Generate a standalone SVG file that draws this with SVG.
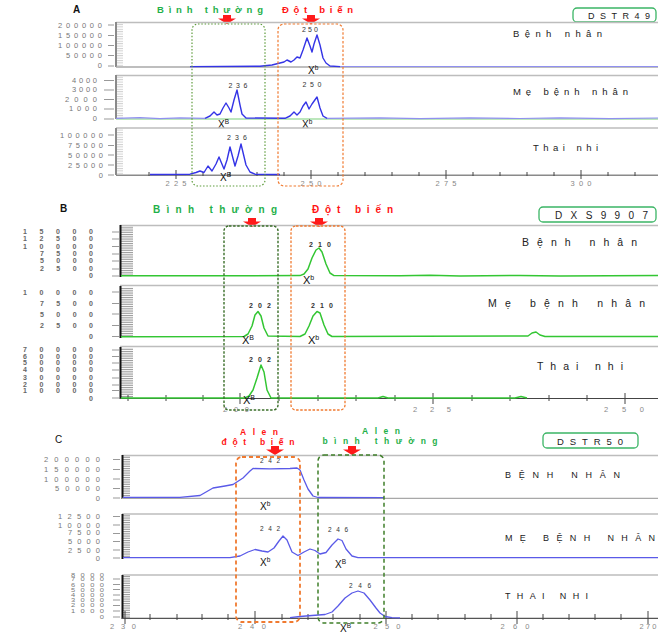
<svg xmlns="http://www.w3.org/2000/svg" width="658" height="634" viewBox="0 0 658 634">
<defs>
<style>
text{font-family:"Liberation Sans",Arial,sans-serif}
.yl{fill:#777;font-size:7.5px;text-anchor:end}
.yb{fill:#666;font-size:7px;font-weight:bold;text-anchor:end}
.dsh{stroke:#999;stroke-width:1;fill:none}
.fr{fill:none;stroke:#bdbdbd;stroke-width:1.6}
.base{fill:none;stroke:#a8a8a8;stroke-width:1.3}
.axA{stroke:#8a8a8a;stroke-width:2}
.axB{stroke:#111;stroke-width:2}
.tb{fill:none;stroke:#3434e6;stroke-width:1.4;stroke-linejoin:round}
.tbl{fill:none;stroke:#9090f0;stroke-width:1.2}
.tbc{fill:none;stroke:#5a5ae8;stroke-width:1.3;stroke-linejoin:round}
.tg{fill:none;stroke:#33c633;stroke-width:1.5;stroke-linejoin:round}
.tgl{fill:none;stroke:#7ad07a;stroke-width:1.1}
.grn{fill:#1fb04a;font-weight:bold}
.red{fill:#ff1414;font-weight:bold}
.nm{fill:#222}
.pk{fill:#333;text-anchor:middle}
.xl{fill:#111}
.tick{stroke:#444;stroke-width:1;fill:none}
.tkl{fill:#888;font-size:7.5px;text-anchor:middle}
.gA{fill:none;stroke:#5e9c3c;stroke-width:1.2;stroke-dasharray:1.5 1.8}
.oA{fill:none;stroke:#f07a30;stroke-width:1.2;stroke-dasharray:2.5 1.8}
.gB{fill:none;stroke:#3b6f2a;stroke-width:1.4;stroke-dasharray:2.5 1.6}
.oB{fill:none;stroke:#f07a30;stroke-width:1.3;stroke-dasharray:2.5 1.6}
.gC{fill:none;stroke:#3f7f2a;stroke-width:1.5;stroke-dasharray:4 3}
.oC{fill:none;stroke:#f07a30;stroke-width:1.8;stroke-dasharray:4 3}
.tag{fill:#fff;stroke:#3bb565;stroke-width:1.3}
.arr{fill:#ff1a1a}
</style>
<pattern id="hA" width="8" height="2.4" patternUnits="userSpaceOnUse"><rect width="8" height="1" fill="#cfcfcf"/></pattern>
<pattern id="hB" width="14" height="1.8" patternUnits="userSpaceOnUse"><rect width="14" height="0.9" fill="#9a9a9a"/></pattern>
<path id="arr" d="M-4,0H4V3.5H9L0,9L-9,3.5H-4Z"/>
</defs>
<rect width="658" height="634" fill="#fff"/>

<!-- ================= PANEL A ================= -->
<g id="panel-A">
<text x="73" y="13" font-size="10" font-weight="bold" fill="#111">A</text>
<text class="grn" x="157" y="13" font-size="9.5" textLength="106" lengthAdjust="spacing">Bình thường</text>
<text class="red" x="282" y="13" font-size="9.5" textLength="71" lengthAdjust="spacing">Đột biến</text>
<use href="#arr" class="arr" x="227" y="15"/>
<use href="#arr" class="arr" x="311" y="15"/>
<g id="tag-A"><rect class="tag" x="573" y="8" width="83" height="14" rx="4"/><text x="588" y="19" font-size="9" fill="#222" textLength="62" lengthAdjust="spacing">DSTR49</text></g>

<!-- plot A1 -->
<g id="A1">
<path class="fr" d="M116,22.5H658"/>
<rect x="117" y="23" width="6" height="44" fill="url(#hA)"/>
<path class="axA" d="M116,22V67"/>
<path class="dsh" d="M108,25H114M108,35.5H114M108,45.5H114M108,55.5H114M108,66H114"/>
<text class="yl" x="102" y="27.5" textLength="44">200000</text>
<text class="yl" x="102" y="37.5" textLength="44">150000</text>
<text class="yl" x="102" y="48" textLength="44">100000</text>
<text class="yl" x="102" y="57.5" textLength="36">50000</text>
<text class="yl" x="102" y="68">0</text>
<path class="base" d="M116,67H658"/>
<path class="tbl" d="M340,66.5H658"/>
<path class="tb" d="M190,66.6L260,66.2L272,65L280,63L284,62L287,60L291,62L294,60L297,57L300,58L303,50L307,38L310,46L312,52L314,44L317,35L320,45L323,58L326,63L330,66L340,66.6"/>
<text class="pk" x="310" y="32" font-size="7" textLength="16" lengthAdjust="spacing">250</text>
<text class="xl" x="308" y="74" font-size="10">X<tspan font-size="6.5" dy="-4">b</tspan></text>
<text class="nm" x="513" y="37" font-size="9.5" textLength="89" lengthAdjust="spacing">Bệnh nhân</text>
</g>

<!-- plot A2 -->
<g id="A2">
<path class="fr" d="M116,75.5H658"/>
<rect x="117" y="76" width="6" height="43" fill="url(#hA)"/>
<path class="axA" d="M116,75V119"/>
<path class="dsh" d="M104,80.5H114M104,90H114M104,99.5H114M104,109H114M104,119H114"/>
<text class="yl" x="97" y="82.5" textLength="25">4000</text>
<text class="yl" x="97" y="92" textLength="25">3000</text>
<text class="yl" x="97" y="101.5" textLength="32">2000</text>
<text class="yl" x="97" y="111" textLength="28">1000</text>
<text class="yl" x="97" y="121">0</text>
<path class="tgl" d="M116,119H658"/>
<path class="tbl" d="M116,118.3L140,117.6L160,118.6L180,117.8L205,118.3M327,118.3L380,117.8L420,118.6L470,117.9L520,118.5L560,117.8L610,118.6L658,118"/>
<path class="tb" d="M205,118.3L210,116L214,112L217,115L220,114L223,108L226,103L229,108L231,112L234,100L237,90L240,105L242,114L246,118L285,118.3L290,116L294,112L297,115L300,112L303,106L306,102L309,109L312,104L317,97L320,108L323,116L327,118.3"/>
<text class="pk" x="238" y="88" font-size="7" textLength="19" lengthAdjust="spacing">236</text>
<text class="pk" x="312" y="87" font-size="7" textLength="19" lengthAdjust="spacing">250</text>
<text class="xl" x="218" y="127.5" font-size="10">X<tspan font-size="6.5" dy="-4">B</tspan></text>
<text class="xl" x="302" y="127.5" font-size="10">X<tspan font-size="6.5" dy="-4">b</tspan></text>
<text class="nm" x="513" y="95" font-size="9.5" textLength="115" lengthAdjust="spacing">Mẹ bệnh nhân</text>
<path class="fr" d="M116,128H658" stroke-width="2"/>
</g>

<!-- plot A3 -->
<g id="A3">
<rect x="117" y="129" width="6" height="46" fill="url(#hA)"/>
<path class="axA" d="M116,128V175"/>
<path class="dsh" d="M108,135H114M108,145.5H114M108,155H114M108,165H114M108,175H114"/>
<text class="yl" x="103" y="137.5" textLength="43">100000</text>
<text class="yl" x="103" y="148" textLength="35">75000</text>
<text class="yl" x="103" y="157.5" textLength="35">50000</text>
<text class="yl" x="103" y="167.5" textLength="35">25000</text>
<text class="yl" x="103" y="177.5">0</text>
<path d="M116,175.3H658" stroke="#8a8a8a" stroke-width="1.4"/>
<path class="tick" d="M149,172V176M203,172V176M230,172V176M257,172V176M284,172V176M338,172V176M365,172V176M392,172V176M419,172V176M473,172V176M500,172V176M527,172V176M554,172V176M608,172V176M635,172V176"/>
<path class="tick" d="M176,170V179M311,170V179M446,170V179M581,170V179"/>
<path class="tb" d="M150,174.5L190,174.2L196,172.5L200,171L204,172.5L208,166L212,171L216,164L219,157L224,169L227,160L230,147L235,166L238,156L241,144L246,165L250,172L255,174.2L280,174.5"/>
<text class="pk" x="237" y="140" font-size="7" textLength="20" lengthAdjust="spacing">236</text>
<text class="xl" x="220" y="181" font-size="10">X<tspan font-size="6.5" dy="-4">B</tspan></text>
<text class="tkl" x="176" y="186" textLength="21" lengthAdjust="spacing">225</text>
<text class="tkl" x="311" y="186" textLength="21" lengthAdjust="spacing">250</text>
<text class="tkl" x="446" y="186" textLength="21" lengthAdjust="spacing">275</text>
<text class="tkl" x="581" y="186" textLength="21" lengthAdjust="spacing">300</text>
<text class="nm" x="533" y="151" font-size="9.5" textLength="65" lengthAdjust="spacing">Thai nhi</text>
</g>
<rect id="A-normal-box" class="gA" x="192" y="24" width="73" height="162" rx="6"/>
<rect id="A-mutant-box" class="oA" x="278" y="24" width="65" height="162" rx="6"/>
</g>

<!-- ================= PANEL B ================= -->
<g id="panel-B">
<text x="60" y="212" font-size="10" font-weight="bold" fill="#111">B</text>
<text class="grn" x="153" y="213" font-size="10" textLength="124" lengthAdjust="spacing">Bình thường</text>
<text class="red" x="312" y="213" font-size="10" textLength="81" lengthAdjust="spacing">Đột biến</text>
<use href="#arr" class="arr" x="252" y="218"/>
<use href="#arr" class="arr" x="319" y="218"/>
<g id="tag-B"><rect class="tag" x="539" y="207" width="117" height="15" rx="4"/><text x="555" y="219" font-size="10" fill="#222" textLength="93" lengthAdjust="spacing">DXS9907</text></g>

<g id="B1">
<path class="fr" d="M120,225.5H658"/>
<rect x="121" y="226" width="12" height="50" fill="url(#hB)"/>
<path class="axB" d="M120.5,225V277"/>
<path class="dsh" d="M112,232H119M112,239H119M112,246.5H119M112,254H119M112,261H119M112,269H119M112,276H119"/>
<text class="yb" x="93" y="234" textLength="70">15000</text>
<text class="yb" x="93" y="241" textLength="70">12500</text>
<text class="yb" x="93" y="248.5" textLength="70">10000</text>
<text class="yb" x="93" y="256" textLength="53">7500</text>
<text class="yb" x="93" y="263" textLength="53">5000</text>
<text class="yb" x="93" y="271" textLength="53">2500</text>
<text class="yb" x="93" y="278">0</text>
<path class="tg" d="M121,275.8L300,275.6L304,274L308,269L312,258L316,250L319,248L322,252L326,264L330,273L334,275.6L400,275.8L430,275.3L460,275.9L520,275.4L560,275.9L658,275.6"/>
<text class="pk" x="320" y="247" font-size="7" font-weight="bold" textLength="22" lengthAdjust="spacing">210</text>
<text class="xl" x="303" y="284" font-size="11">X<tspan font-size="7" dy="-4.5">b</tspan></text>
<text class="nm" x="522" y="246" font-size="10.5" textLength="115" lengthAdjust="spacing">Bệnh nhân</text>
<path class="fr" d="M120,285.5H658" stroke-width="2"/>
</g>

<g id="B2">
<rect x="121" y="287" width="12" height="50" fill="url(#hB)"/>
<path class="axB" d="M120.5,286V338"/>
<path class="dsh" d="M112,292H119M112,303.5H119M112,314H119M112,325.5H119M112,336.5H119"/>
<text class="yb" x="93" y="294.5" textLength="70">10000</text>
<text class="yb" x="93" y="306" textLength="53">7500</text>
<text class="yb" x="93" y="316.5" textLength="53">5000</text>
<text class="yb" x="93" y="327.5" textLength="53">2500</text>
<text class="yb" x="93" y="338.5">0</text>
<path class="tg" d="M121,336.8L244,336.5L248,334L252,326L255,315L258,311.5L261,316L264,328L268,336L300,336.5L305,334L309,326L313,316L317,311.5L320,313L324,325L328,334L332,336.5L528,336L532,333L536,332L540,335L545,336.5L658,336.6"/>
<text class="pk" x="260" y="308" font-size="7" font-weight="bold" textLength="22" lengthAdjust="spacing">202</text>
<text class="pk" x="322" y="308" font-size="7" font-weight="bold" textLength="22" lengthAdjust="spacing">210</text>
<text class="xl" x="242" y="344" font-size="11">X<tspan font-size="7" dy="-4.5">B</tspan></text>
<text class="xl" x="308" y="344" font-size="11">X<tspan font-size="7" dy="-4.5">b</tspan></text>
<text class="nm" x="488" y="307" font-size="10.5" textLength="157" lengthAdjust="spacing">Mẹ bệnh nhân</text>
<path class="fr" d="M120,346.5H658" stroke-width="2"/>
</g>

<g id="B3">
<rect x="121" y="348" width="12" height="50" fill="url(#hB)"/>
<path class="axB" d="M120.5,347V399"/>
<path class="dsh" d="M112,350H119M112,356.5H119M112,363H119M112,370H119M112,378H119M112,385H119M112,390.5H119M112,398H119"/>
<text class="yb" x="93" y="352" font-size="6" textLength="70">70000</text>
<text class="yb" x="93" y="358.5" font-size="6" textLength="70">60000</text>
<text class="yb" x="93" y="365" font-size="6" textLength="70">50000</text>
<text class="yb" x="93" y="372" font-size="6" textLength="70">40000</text>
<text class="yb" x="93" y="380" font-size="6" textLength="70">30000</text>
<text class="yb" x="93" y="387" font-size="6" textLength="70">20000</text>
<text class="yb" x="93" y="392.5" font-size="6" textLength="70">10000</text>
<text class="yb" x="93" y="401" font-size="6">0</text>
<path d="M120,398.5H658" stroke="#444" stroke-width="1.2"/>
<path class="tick" d="M128,395V401M166,395V401M203,395V401M279,395V401M318,395V401M356,395V401M395,395V401M472,395V401M510,395V401M549,395V401M587,395V401"/>
<path class="tick" d="M240,393V404M433,393V404M625,393V404" stroke-width="1.5"/>
<path class="tg" d="M121,398L245,398L249,396L253,390L257,378L261,365L264,372L267,390L271,398L378,398L383,396.5L388,398L515,398L521,396.5L527,398"/>
<text class="pk" x="260" y="362" font-size="7" font-weight="bold" textLength="22" lengthAdjust="spacing">202</text>
<text class="xl" x="243" y="404" font-size="11">X<tspan font-size="7" dy="-4.5">B</tspan></text>
<text class="tkl" x="236" y="412" textLength="26" lengthAdjust="spacing">200</text>
<text class="tkl" x="432" y="412" textLength="38" lengthAdjust="spacing">225</text>
<text class="tkl" x="624" y="412" textLength="40" lengthAdjust="spacing">250</text>
<text class="nm" x="537" y="370" font-size="10.5" textLength="86" lengthAdjust="spacing">Thai nhi</text>
</g>
<rect id="B-normal-box" class="gB" x="224" y="226" width="54" height="184" rx="5"/>
<rect id="B-mutant-box" class="oB" x="291" y="226" width="54" height="184" rx="5"/>
</g>

<!-- ================= PANEL C ================= -->
<g id="panel-C">
<text x="55" y="443" font-size="10" fill="#111">C</text>
<text class="red" x="259" y="434.5" font-size="8.5" text-anchor="middle" textLength="38" lengthAdjust="spacing">Alen</text>
<text class="red" x="258" y="445" font-size="8.5" text-anchor="middle" textLength="73" lengthAdjust="spacing">đột biến</text>
<text class="grn" x="381" y="433.5" font-size="8.5" text-anchor="middle" textLength="38" lengthAdjust="spacing">Alen</text>
<text class="grn" x="380" y="444" font-size="8.5" text-anchor="middle" textLength="115" lengthAdjust="spacing">bình thường</text>
<use href="#arr" class="arr" x="275" y="446"/>
<use href="#arr" class="arr" x="352" y="446"/>
<g id="tag-C"><rect class="tag" x="543" y="433" width="95" height="15" rx="4"/><text x="557" y="445" font-size="9.5" fill="#222" textLength="66" lengthAdjust="spacing">DSTR50</text></g>

<g id="C1">
<path class="fr" d="M122,455.5H658"/>
<rect x="123" y="456" width="7" height="42" fill="url(#hB)"/>
<path class="axB" d="M122.5,455V499"/>
<path class="dsh" d="M113,459.5H120M113,469.5H120M113,479H120M113,488.5H120M113,498H120"/>
<text class="yl" x="100" y="462" font-size="7" textLength="56">200000</text>
<text class="yl" x="100" y="472" font-size="7" textLength="56">150000</text>
<text class="yl" x="100" y="481.5" font-size="7" textLength="56">100000</text>
<text class="yl" x="100" y="491" font-size="7" textLength="45">50000</text>
<text class="yl" x="100" y="501" font-size="7">0</text>
<path class="base" d="M122,498.3H658"/>
<path class="tbc" d="M123,497.3L180,497.3L200,495.5L213,488L225,486L233,484.5L243,478L250,471L253,468.5L270,468.8L290,468.5L297,468L300,470L304,480L308,489L313,496L318,497.5L384,497.6"/>
<text class="pk" x="270" y="463" font-size="6.5" textLength="20" lengthAdjust="spacing">242</text>
<text class="xl" x="260" y="510" font-size="10">X<tspan font-size="6.5" dy="-4">b</tspan></text>
<text class="nm" x="505" y="478" font-size="9" textLength="115" lengthAdjust="spacing">BỆNH NHÂN</text>
<path class="fr" d="M122,514H658" stroke-width="2"/>
</g>

<g id="C2">
<rect x="123" y="515" width="7" height="43" fill="url(#hB)"/>
<path class="axB" d="M122.5,514V559"/>
<path class="dsh" d="M113,516.5H120M113,525H120M113,533.5H120M113,541.5H120M113,550H120M113,558H120"/>
<text class="yl" x="100" y="519" font-size="7" textLength="42">12500</text>
<text class="yl" x="100" y="527.5" font-size="7" textLength="42">10000</text>
<text class="yl" x="100" y="535" font-size="7" textLength="32">7500</text>
<text class="yl" x="100" y="543.5" font-size="7" textLength="32">5000</text>
<text class="yl" x="100" y="552.5" font-size="7" textLength="32">2500</text>
<text class="yl" x="100" y="560.5" font-size="7">0</text>
<path class="tbc" d="M123,557.6L230,557.6L240,556L248,552L255,549.5L262,551L268,552L274,548L279,541L283,536L287,540L292,552L298,555.5L304,552L310,549L315,550.5L320,554L326,552.5L332,545L338,539L342,540.5L346,549L352,556L358,557.6L658,557.6"/>
<text class="pk" x="270" y="531" font-size="6.5" textLength="20" lengthAdjust="spacing">242</text>
<text class="pk" x="338" y="532" font-size="6.5" textLength="20" lengthAdjust="spacing">246</text>
<text class="xl" x="260" y="566" font-size="10">X<tspan font-size="6.5" dy="-4">b</tspan></text>
<text class="xl" x="335" y="568" font-size="10">X<tspan font-size="6.5" dy="-4">B</tspan></text>
<text class="nm" x="505" y="541" font-size="9" textLength="150" lengthAdjust="spacing">MẸ BỆNH NHÂN</text>
</g>

<g id="C3">
<g transform="translate(0,618) scale(1,0.72)">
<text class="yl" x="104" y="-57.6" font-size="5.6" textLength="33">8000</text>
<text class="yl" x="104" y="-50.7" font-size="5.6" textLength="33">7000</text>
<text class="yl" x="104" y="-43.7" font-size="5.6" textLength="33">6000</text>
<text class="yl" x="104" y="-36.8" font-size="5.6" textLength="33">5000</text>
<text class="yl" x="104" y="-29.2" font-size="5.6" textLength="33">4000</text>
<text class="yl" x="104" y="-22.2" font-size="5.6" textLength="33">3000</text>
<text class="yl" x="104" y="-15.3" font-size="5.6" textLength="33">2000</text>
<text class="yl" x="104" y="-7.6" font-size="5.6" textLength="33">1000</text>
<text class="yl" x="104" y="1.4" font-size="5.6">0</text>
</g>
<path class="fr" d="M122,575H658" stroke-width="2"/>
<rect x="123" y="576" width="7" height="42" fill="url(#hB)"/>
<path class="axB" d="M122.5,575V619"/>
<path class="dsh" d="M113,579H120M113,584.5H120M113,589.5H120M113,595H120M113,600H120M113,605.5H120M113,611H120M113,617H120"/>
<path d="M122,618.3H658" stroke="#555" stroke-width="1.2"/>
<path class="tick" d="M150,614V620M177,614V620M202,614V620M228,614V620M282,614V620M308,614V620M333,614V620M360,614V620M412,614V620M438,614V620M465,614V620M491,614V620M543,614V620M569,614V620M595,614V620M621,614V620"/>
<path class="tick" d="M125,611V624M255,611V624M386,611V624M517,611V624M648,611V624" stroke-width="1.3"/>
<path class="tbc" d="M290,617.6L300,616.5L312,615.5L325,614.5L332,612L338,606L345,598L352,593L358,591L364,593L370,600L376,608L380,613L385,616.5L392,617.6L400,617.8"/>
<text class="pk" x="360" y="588" font-size="6.5" textLength="22" lengthAdjust="spacing">246</text>
<text class="xl" x="340" y="632" font-size="10">X<tspan font-size="6.5" dy="-4">B</tspan></text>
<text class="tkl" x="123" y="629" textLength="26" lengthAdjust="spacing">230</text>
<text class="tkl" x="252" y="629" textLength="28" lengthAdjust="spacing">240</text>
<text class="tkl" x="387" y="629" textLength="27" lengthAdjust="spacing">250</text>
<text class="tkl" x="515" y="629" textLength="29" lengthAdjust="spacing">260</text>
<text class="tkl" x="648" y="629" textLength="17" lengthAdjust="spacing">270</text>
<text class="nm" x="505" y="599" font-size="9" textLength="83" lengthAdjust="spacing">THAI NHI</text>
</g>
<rect id="C-mutant-box" class="oC" x="236" y="457" width="64" height="165" rx="6"/>
<rect id="C-normal-box" class="gC" x="318" y="455" width="66" height="168" rx="6"/>
</g>
</svg>
